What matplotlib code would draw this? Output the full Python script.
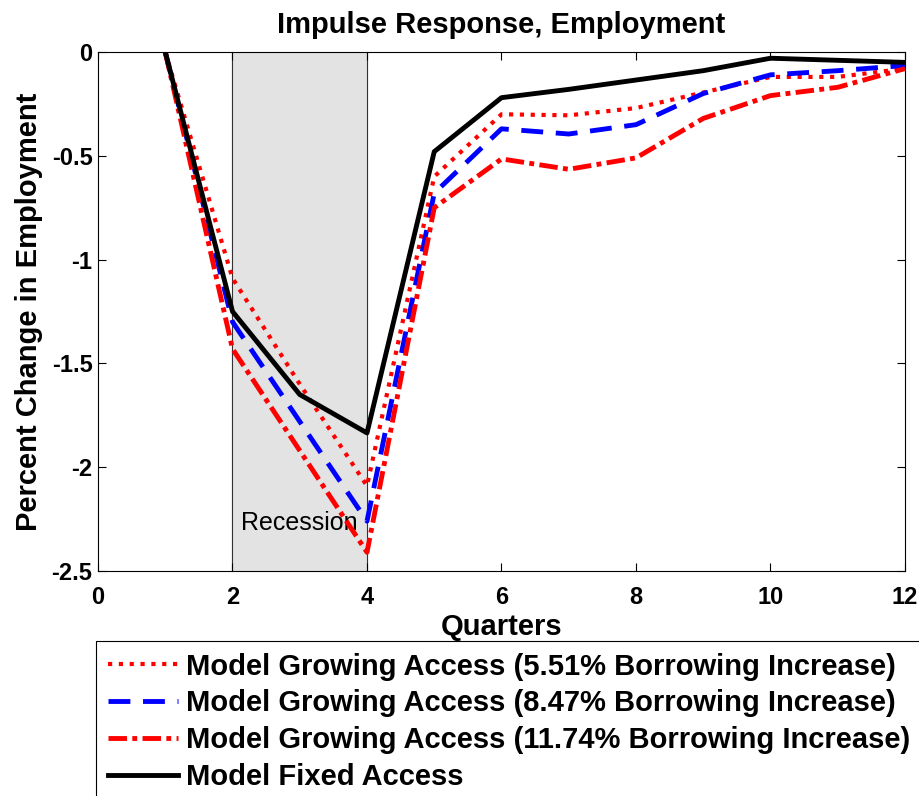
import matplotlib
matplotlib.use("Agg")
import matplotlib.pyplot as plt
from matplotlib.ticker import FuncFormatter

plt.rcParams['font.family'] = ['Liberation Sans', 'DejaVu Sans']

quarters = [1, 2, 3, 4, 5, 6, 7, 8, 9, 10, 11, 12]
growing_551 = [0, -1.09, -1.60, -2.09, -0.60, -0.30, -0.305, -0.27, -0.195, -0.12, -0.12, -0.08]
growing_847 = [0, -1.30, -1.78, -2.26, -0.68, -0.37, -0.395, -0.35, -0.20, -0.11, -0.09, -0.065]
growing_1174 = [0, -1.43, -1.92, -2.41, -0.75, -0.515, -0.565, -0.51, -0.32, -0.21, -0.17, -0.08]
fixed_access = [0, -1.25, -1.65, -1.835, -0.48, -0.22, -0.18, -0.135, -0.09, -0.03, -0.04, -0.05]

labels = ["Model Growing Access (5.51% Borrowing Increase)",
          "Model Growing Access (8.47% Borrowing Increase)",
          "Model Growing Access (11.74% Borrowing Increase)",
          "Model Fixed Access"]
recession = (2, 4)
xticks = [0, 2, 4, 6, 8, 10, 12]
yticks = [0, -0.5, -1, -1.5, -2, -2.5]

fig = plt.figure(figsize=(9.2, 7.96), dpi=100)
ax = fig.add_axes([98/920, 1-571/796, (905-98)/920, (571-52)/796])

ax.axvspan(recession[0], recession[1], color='#e3e3e3', zorder=0)
for xv in recession:
    ax.axvline(xv, color='#333333', lw=0.8, zorder=1)
ax.text(3, -2.27, "Recession", ha='center', va='center', fontsize=18, zorder=2)

l1, = ax.plot(quarters, growing_551, color='red', lw=3.0, linestyle=(0, (1, 1.6)), zorder=3)
l2, = ax.plot(quarters, growing_847, color='blue', lw=3.5, linestyle=(0, (4.5, 2.6)), zorder=3)
l3, = ax.plot(quarters, growing_1174, color='red', lw=3.5, linestyle=(0, (3.8, 1.1, 1, 1.1)), zorder=3)
l4, = ax.plot(quarters, fixed_access, color='black', lw=3.5, zorder=4)

ax.set_xlim(0, 12)
ax.set_ylim(-2.5, 0)
ax.set_xticks(xticks)
ax.set_yticks(yticks)
ax.yaxis.set_major_formatter(FuncFormatter(lambda v, p: f"{v:g}"))
ax.tick_params(direction='in', top=True, right=True, length=6, width=0.8, labelsize=17)
ax.tick_params(axis='x', pad=11)
ax.tick_params(axis='y', pad=4)
for lab in ax.get_xticklabels() + ax.get_yticklabels():
    lab.set_fontweight('bold')
for s in ax.spines.values():
    s.set_linewidth(0.8)

ax.set_title("Impulse Response, Employment", fontsize=21, fontweight='bold', pad=14)
ax.set_xlabel("Quarters", fontsize=21, fontweight='bold', labelpad=3)
ax.set_ylabel("Percent Change in Employment", fontsize=21, fontweight='bold', labelpad=6)

leg = fig.legend([l1, l2, l3, l4], labels, loc='upper left',
                 bbox_to_anchor=(96/920, 1-641/796),
                 prop={'weight': 'bold', 'size': 21}, fancybox=False,
                 edgecolor='black', framealpha=1, handlelength=2.4,
                 borderpad=0.4, labelspacing=0.3, handletextpad=0.3,
                 borderaxespad=0)
leg.get_frame().set_linewidth(0.8)

fig.savefig("out.png", dpi=100)
